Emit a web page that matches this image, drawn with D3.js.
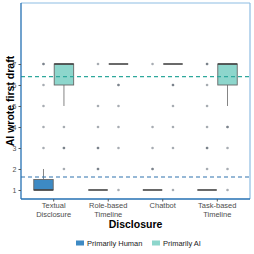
<!DOCTYPE html>
<html>
<head>
<meta charset="utf-8">
<script src="https://cdn.jsdelivr.net/npm/d3@7"></script>
<style>
  body { margin: 0; background: #fff; }
  text { font-family: "Liberation Sans", Arial, sans-serif; }
</style>
</head>
<body>
<div id="chart"></div>
<script>
// data
var categories = ["Textual Disclosure", "Role-based Timeline", "Chatbot", "Task-based Timeline"];
var groups = ["Primarily Human", "Primarily AI"];
// [lower whisker, q1, median, q3, upper whisker]
var humanStats = [[1, 1, 1, 1.5, 2], [1, 1, 1, 1, 1], [1, 1, 1, 1, 1], [1, 1, 1, 1, 1]];
var aiStats = [[5, 6, 7, 7, 7], [7, 7, 7, 7, 7], [7, 7, 7, 7, 7], [5, 6, 7, 7, 7]];
var humanOutliers = [[3, 4, 5, 6, 7], [2, 3, 4, 5, 7], [2, 3, 4, 7], [2, 3, 4, 5, 6, 7]];
var aiOutliers = [[2, 3, 4], [1, 3, 4, 5, 6], [1, 3, 4, 5, 6], [1, 2, 3, 4]];
// how many overlapping points (darker dots)
var humanCounts = [[1, 1, 1, 1, 2], [2, 2, 1, 1, 1], [2, 1, 1, 1], [1, 2, 1, 1, 1, 2]];
var aiCounts = [[1, 2, 1], [1, 1, 1, 1, 2], [1, 1, 1, 1, 2], [1, 1, 1, 2]];
var meanHuman = 1.62;
var meanAI = 6.4;
var yTicks = [1, 2, 3, 4, 5, 6, 7];

var colors = { "Primarily Human": "#3d8ac4", "Primarily AI": "#8dd6cc" };

var svgWidth = 254, svgHeight = 254;
var panel = { left: 21, right: 250, top: 3, bottom: 199 };

var svg = d3.select("#chart").append("svg")
  .attr("width", svgWidth)
  .attr("height", svgHeight);

// scales
var x = d3.scaleBand()
  .domain(categories)
  .range([panel.left, panel.right])
  .paddingOuter(0.1)
  .paddingInner(0);
var xGroup = d3.scaleBand()
  .domain(groups)
  .range([0, x.bandwidth() * 0.75]);

var y = d3.scaleLinear()
  .domain([0.571, 9.905])
  .range([panel.bottom, panel.top]);

function gx(cat, grp) {
  return x(cat) + x.bandwidth() * 0.125 + xGroup(grp);
}

// build box list
var boxes = [];
categories.forEach(function(c, i) {
  boxes.push({ cat: c, grp: groups[0], s: humanStats[i], out: humanOutliers[i], cnt: humanCounts[i] });
  boxes.push({ cat: c, grp: groups[1], s: aiStats[i], out: aiOutliers[i], cnt: aiCounts[i] });
});

// outlier points
var pts = [];
boxes.forEach(function(b) {
  b.out.forEach(function(v, j) {
    for (var k = 0; k < b.cnt[j]; k++) pts.push({ cat: b.cat, grp: b.grp, v: v });
  });
});
svg.append("g").selectAll("circle")
  .data(pts)
  .enter().append("circle")
  .attr("cx", d => gx(d.cat, d.grp) + xGroup.bandwidth() / 2)
  .attr("cy", d => y(d.v))
  .attr("r", 1.3)
  .attr("fill", "#4f5a66")
  .attr("opacity", 0.5);

// boxes
var bw = xGroup.bandwidth();
var bg = svg.append("g").selectAll("g")
  .data(boxes)
  .enter().append("g");

bg.append("line")
  .attr("x1", d => gx(d.cat, d.grp) + bw / 2)
  .attr("x2", d => gx(d.cat, d.grp) + bw / 2)
  .attr("y1", d => y(d.s[0]))
  .attr("y2", d => y(d.s[1]))
  .attr("stroke", "#666")
  .attr("stroke-width", 0.8);
bg.append("line")
  .attr("x1", d => gx(d.cat, d.grp) + bw / 2)
  .attr("x2", d => gx(d.cat, d.grp) + bw / 2)
  .attr("y1", d => y(d.s[3]))
  .attr("y2", d => y(d.s[4]))
  .attr("stroke", "#666")
  .attr("stroke-width", 0.8);
bg.filter(d => d.s[3] > d.s[1]).append("rect")
  .attr("x", d => gx(d.cat, d.grp) + 0.5)
  .attr("width", bw - 1)
  .attr("y", d => y(d.s[3]))
  .attr("height", d => y(d.s[1]) - y(d.s[3]))
  .attr("fill", d => colors[d.grp])
  .attr("stroke", "#666")
  .attr("stroke-width", 0.9);
bg.append("line")
  .attr("x1", d => gx(d.cat, d.grp) + 0.5)
  .attr("x2", d => gx(d.cat, d.grp) + bw - 0.5)
  .attr("y1", d => y(d.s[2]))
  .attr("y2", d => y(d.s[2]))
  .attr("stroke", "#444")
  .attr("stroke-width", 1.6);

// mean lines
svg.append("line")
  .attr("x1", panel.left).attr("x2", panel.right)
  .attr("y1", y(meanAI)).attr("y2", y(meanAI))
  .attr("stroke", "#2fa89c").attr("stroke-width", 1.1)
  .attr("stroke-dasharray", "4,3");
svg.append("line")
  .attr("x1", panel.left).attr("x2", panel.right)
  .attr("y1", y(meanHuman)).attr("y2", y(meanHuman))
  .attr("stroke", "#2f73ae").attr("stroke-width", 1.1)
  .attr("stroke-dasharray", "4,3");

// panel border: light top/right, dark left/bottom
svg.append("line").attr("x1", panel.left).attr("x2", panel.right)
  .attr("y1", panel.top).attr("y2", panel.top)
  .attr("stroke", "#8ebde3").attr("stroke-width", 1.2);
svg.append("line").attr("x1", panel.right).attr("x2", panel.right)
  .attr("y1", panel.top).attr("y2", panel.bottom)
  .attr("stroke", "#8ebde3").attr("stroke-width", 1.2);

// axes
var leftAxis = d3.axisLeft(y).tickValues(yTicks).tickSize(2.5).tickPadding(2);
var bottomAxis = d3.axisBottom(x).tickSize(2.5).tickPadding(2).tickFormat("");

var ya = svg.append("g")
  .attr("transform", `translate(${panel.left},0)`)
  .call(leftAxis);
ya.select(".domain").attr("stroke", "#2470b3").attr("stroke-width", 1.3)
  .attr("d", `M0,${panel.top}V${panel.bottom}`);
ya.selectAll(".tick line").attr("stroke", "#555");
ya.selectAll(".tick text").attr("fill", "#4d4d4d").style("font-size", "7px");

var xa = svg.append("g")
  .attr("transform", `translate(0,${panel.bottom})`)
  .call(bottomAxis);
xa.select(".domain").attr("stroke", "#2470b3").attr("stroke-width", 1.3)
  .attr("d", `M${panel.left},0H${panel.right}`);
xa.selectAll(".tick line").attr("stroke", "#555");

// two-line category labels
categories.forEach(function(c) {
  var parts = c.indexOf(" ") > 0 ? c.split(" ") : [c];
  var t = svg.append("text")
    .attr("x", x(c) + x.bandwidth() / 2)
    .attr("y", 208)
    .attr("text-anchor", "middle")
    .attr("fill", "#4d4d4d")
    .style("font-size", "7.5px");
  parts.forEach(function(p, i) {
    t.append("tspan").attr("x", x(c) + x.bandwidth() / 2).attr("dy", i === 0 ? 0 : 9).text(p);
  });
});

// titles
svg.append("text")
  .attr("x", (panel.left + panel.right) / 2)
  .attr("y", 228)
  .attr("text-anchor", "middle")
  .style("font-size", "10.5px").style("font-weight", "bold")
  .text("Disclosure");
svg.append("text")
  .attr("transform", `translate(14,${(panel.top + panel.bottom) / 2}) rotate(-90)`)
  .attr("text-anchor", "middle")
  .style("font-size", "10.5px").style("font-weight", "bold")
  .text("AI wrote first draft");

// legend
var legendX = [76, 152];
groups.forEach(function(g, i) {
  svg.append("rect")
    .attr("x", legendX[i]).attr("y", 240.5)
    .attr("width", 8).attr("height", 5)
    .attr("fill", colors[g]);
  svg.append("text")
    .attr("x", legendX[i] + 11).attr("y", 245.8)
    .style("font-size", "7.5px").attr("fill", "#222")
    .text(g);
});
</script>
</body>
</html>
